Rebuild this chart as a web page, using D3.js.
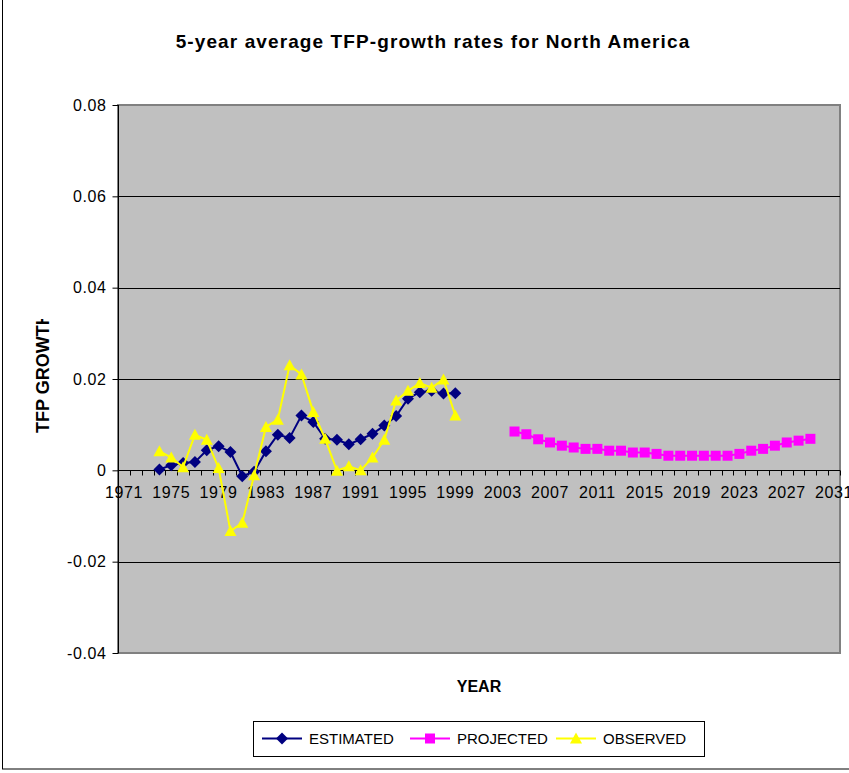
<!DOCTYPE html>
<html>
<head>
<meta charset="utf-8">
<script src="https://cdn.jsdelivr.net/npm/d3@7"></script>
<style>
  body { margin: 0; background: #fff; }
  text { font-family: "Liberation Sans", Arial, sans-serif; }
</style>
</head>
<body>
<div id="chartSection"></div>
<script>
// category axis
var years = d3.range(1971, 2032);
var tickYears = [1971, 1975, 1979, 1983, 1987, 1991, 1995, 1999, 2003, 2007, 2011, 2015, 2019, 2023, 2027, 2031];
var yTicks = [-0.04, -0.02, 0, 0.02, 0.04, 0.06, 0.08];

// series
var estYears = [1974, 1975, 1976, 1977, 1978, 1979, 1980, 1981, 1982, 1983, 1984, 1985, 1986,
    1987, 1988, 1989, 1990, 1991, 1992, 1993, 1994, 1995, 1996, 1997, 1998, 1999];
var estimated = [0.0002, 0.0011, 0.0016, 0.0018, 0.0044, 0.0053, 0.0040, -0.0013, -0.0003, 0.0042, 0.0078, 0.0071, 0.0120,
    0.0106, 0.0069, 0.0067, 0.0057, 0.0068, 0.0080, 0.0098, 0.0119, 0.0157, 0.0171, 0.0174, 0.0168, 0.0169];

var obsYears = estYears;
var observed = [0.0042, 0.0028, 0.0007, 0.0078, 0.0067, 0.0005, -0.0133, -0.0115, -0.0011, 0.0095, 0.0111, 0.0230, 0.0210,
    0.0128, 0.0069, -0.0001, 0.0009, 0.0000, 0.0028, 0.0067, 0.0153, 0.0174, 0.0191, 0.0181, 0.0199, 0.0120];

var projYears = [2004, 2005, 2006, 2007, 2008, 2009, 2010, 2011, 2012, 2013, 2014, 2015, 2016,
    2017, 2018, 2019, 2020, 2021, 2022, 2023, 2024, 2025, 2026, 2027, 2028, 2029];
var projected = [0.0085, 0.0079, 0.0068, 0.0061, 0.0054, 0.0050, 0.0047, 0.0047, 0.0043, 0.0043, 0.0039, 0.0039, 0.0036,
    0.0032, 0.0032, 0.0032, 0.0032, 0.0032, 0.0032, 0.0036, 0.0043, 0.0047, 0.0054, 0.0061, 0.0065, 0.0069];

var seriesNames = ["ESTIMATED", "PROJECTED", "OBSERVED"];
var seriesColors = ["#000080", "#FF00FF", "#FFFF00"];

var width = 849, height = 773;
var svg = d3.select("#chartSection").append("svg")
    .attr("width", width)
    .attr("height", height);

// outer chart border
svg.append("rect")
    .attr("x", 2.5).attr("y", -5)
    .attr("width", 900).attr("height", 774)
    .attr("fill", "#fff")
    .attr("stroke", "#000")
    .attr("stroke-width", 1);

var x = d3.scaleBand().domain(years).range([118, 840]).padding(0);
var y = d3.scaleLinear().domain([-0.04, 0.08]).range([653, 105]);
var cx = function(yr) { return x(yr) + x.bandwidth() / 2; };

// plot area
svg.append("rect")
    .attr("x", 118).attr("y", 105)
    .attr("width", 722).attr("height", 548)
    .attr("fill", "#C0C0C0")
    .attr("stroke", "#808080")
    .attr("stroke-width", 2);

// gridlines
svg.append("g")
    .selectAll("line")
    .data(yTicks.filter(function(d) { return d !== 0 && d !== 0.08 && d !== -0.04; }))
    .enter().append("line")
    .attr("x1", 118).attr("x2", 840)
    .attr("y1", function(d) { return Math.round(y(d)) + 0.5; })
    .attr("y2", function(d) { return Math.round(y(d)) + 0.5; })
    .attr("stroke", "#000")
    .attr("stroke-width", 1);

// y axis
var yAxis = svg.append("g")
    .attr("transform", "translate(118.5,0)")
    .call(d3.axisLeft(y).tickValues(yTicks).tickSize(6).tickPadding(6)
        .tickFormat(function(d) { return d === 0 ? "0" : d.toFixed(2); }));
yAxis.select(".domain").attr("stroke", "#000").attr("d", "M0,105V653");
yAxis.selectAll("text")
    .style("font-size", "16px")
    .style("letter-spacing", "0.6px")
    .attr("fill", "#000")
    .attr("font-family", "Liberation Sans, Arial, sans-serif");

// x axis (crosses at 0)
var xAxisG = svg.append("g")
    .attr("transform", "translate(0," + (Math.round(y(0)) + 0.5) + ")");
xAxisG.append("line")
    .attr("x1", 118).attr("x2", 840)
    .attr("stroke", "#000").attr("stroke-width", 1);
xAxisG.selectAll("line.tk")
    .data(d3.range(0, years.length + 1))
    .enter().append("line")
    .attr("class", "tk")
    .attr("x1", function(i) { return Math.round(118 + i * x.bandwidth()) + 0.5; })
    .attr("x2", function(i) { return Math.round(118 + i * x.bandwidth()) + 0.5; })
    .attr("y1", 0).attr("y2", 5)
    .attr("stroke", "#000");
xAxisG.selectAll("text")
    .data(tickYears)
    .enter().append("text")
    .attr("x", function(d) { return cx(d); })
    .attr("y", 27)
    .attr("text-anchor", "middle")
    .style("font-size", "16px")
    .style("letter-spacing", "0.6px")
    .text(function(d) { return d; });

// series
function drawLine(xs, vals, color, w) {
    svg.append("path")
        .datum(vals.map(function(v, i) { return [xs[i], v]; }))
        .attr("fill", "none")
        .attr("stroke", color)
        .attr("stroke-width", w)
        .attr("d", d3.line().x(function(d) { return cx(d[0]); }).y(function(d) { return y(d[1]); }));
}

var diamond = "M0,-6L6,0L0,6L-6,0Z";
var square = "M-5,-5H5V5H-5Z";
var triangle = "M0,-6L6,5H-6Z";

function drawMarkers(xs, vals, color, shape) {
    svg.append("g").selectAll("path")
        .data(vals)
        .enter().append("path")
        .attr("d", shape)
        .attr("fill", color)
        .attr("transform", function(d, i) { return "translate(" + cx(xs[i]) + "," + y(d) + ")"; });
}

drawLine(estYears, estimated, seriesColors[0], 2);
drawMarkers(estYears, estimated, seriesColors[0], diamond);
drawLine(projYears, projected, seriesColors[1], 2);
drawMarkers(projYears, projected, seriesColors[1], square);
drawLine(obsYears, observed, seriesColors[2], 2);
drawMarkers(obsYears, observed, seriesColors[2], triangle);

// titles
svg.append("text")
    .attr("x", 433).attr("y", 48)
    .attr("text-anchor", "middle")
    .style("font-size", "19px")
    .style("font-weight", "bold")
    .style("letter-spacing", "1.1px")
    .text("5-year average TFP-growth rates for North America");

svg.append("text")
    .attr("x", 479).attr("y", 692)
    .attr("text-anchor", "middle")
    .style("font-size", "16px")
    .style("font-weight", "bold")
    .text("YEAR");

// y title, its end is cut off as in the original
svg.append("clipPath").attr("id", "ytclip")
    .append("rect").attr("x", 0).attr("y", 319).attr("width", 100).attr("height", 200);
svg.append("g")
    .attr("clip-path", "url(#ytclip)")
    .append("text")
    .attr("transform", "translate(49,433) rotate(-90)")
    .style("font-size", "18px")
    .style("font-weight", "bold")
    .text("TFP GROWTH");

// legend
var legend = svg.append("g");
legend.append("rect")
    .attr("x", 253.5).attr("y", 721.5)
    .attr("width", 451).attr("height", 35)
    .attr("fill", "#fff")
    .attr("stroke", "#000");
var legendX = [262, 410, 556];
var legendShapes = [diamond, square, triangle];
seriesNames.forEach(function(name, i) {
    var lx = legendX[i];
    legend.append("line")
        .attr("x1", lx).attr("x2", lx + 40)
        .attr("y1", 738.5).attr("y2", 738.5)
        .attr("stroke", seriesColors[i]).attr("stroke-width", 2);
    legend.append("path")
        .attr("d", legendShapes[i])
        .attr("fill", seriesColors[i])
        .attr("transform", "translate(" + (lx + 20) + ",738.5)");
    legend.append("text")
        .attr("x", lx + 47).attr("y", 744)
        .style("font-size", "15px")
        .text(name);
});
</script>
</body>
</html>
